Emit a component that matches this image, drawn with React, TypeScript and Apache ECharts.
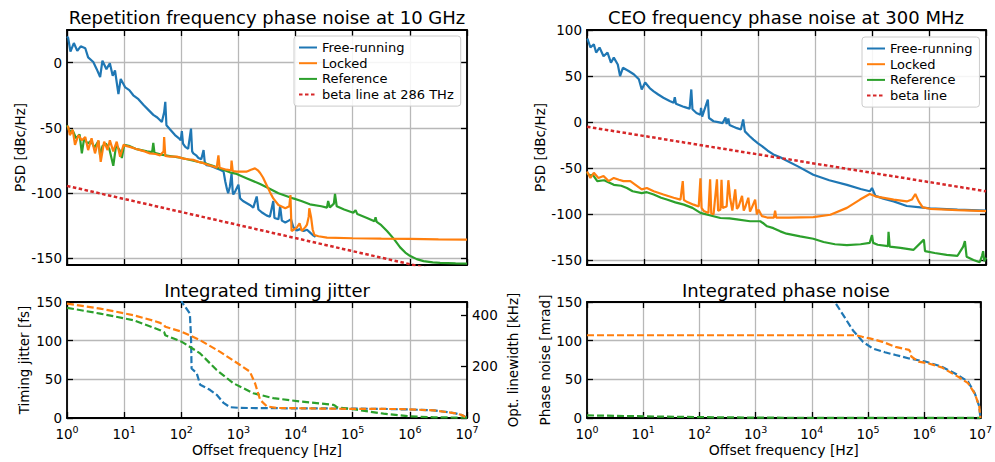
import React, { useEffect, useRef } from 'react';
import * as echarts from 'echarts';

const FONT = '"DejaVu Sans", "Open Sans", sans-serif';
const C_BLUE = '#1f77b4';
const C_ORANGE = '#ff7f0e';
const C_GREEN = '#2ca02c';
const C_RED = '#d62728';

// [log10(offset frequency / Hz), value]
const repFree: [number, number][] = [[0.00,20],[0.02,19],[0.06,8.5],[0.12,15],[0.18,9],[0.24,12.5],[0.32,11],[0.37,4],[0.46,0.5],[0.52,-5],[0.58,-11],[0.62,1.5],[0.69,-5],[0.75,-0.5],[0.80,-10],[0.84,-6],[0.90,-24],[0.94,-12.5],[1.02,-19],[1.09,-21],[1.16,-25],[1.25,-28],[1.34,-32.5],[1.42,-36],[1.51,-40],[1.58,-42],[1.66,-45.5],[1.70,-38],[1.72,-30],[1.74,-48],[1.82,-52],[1.89,-55.5],[1.96,-58],[1.99,-59.5],[2.01,-52.5],[2.03,-62],[2.07,-64.5],[2.12,-66],[2.17,-50.5],[2.19,-68],[2.21,-69.5],[2.26,-71],[2.30,-73],[2.35,-74],[2.39,-67],[2.41,-76],[2.44,-78.5],[2.50,-79],[2.56,-80],[2.62,-81],[2.68,-82],[2.74,-83.5],[2.77,-91],[2.80,-97],[2.82,-100],[2.85,-95],[2.88,-85],[2.90,-99],[2.91,-101],[2.95,-98],[3.00,-93.5],[3.03,-104],[3.08,-106],[3.14,-107.5],[3.20,-109],[3.26,-111],[3.32,-102.5],[3.35,-112.5],[3.42,-115],[3.49,-117],[3.55,-118],[3.61,-106],[3.63,-119],[3.70,-120],[3.73,-110],[3.76,-121],[3.82,-122.5],[3.88,-121],[3.92,-120],[3.96,-126],[4.02,-128.5],[4.08,-127.5],[4.14,-129],[4.20,-128],[4.25,-130],[4.30,-132],[4.35,-133.5]];
const repLocked: [number, number][] = [[0.00,-49],[0.02,-49],[0.05,-55.5],[0.10,-51.5],[0.14,-63],[0.20,-55.5],[0.26,-59.5],[0.32,-57],[0.37,-67],[0.43,-58],[0.49,-69.5],[0.55,-59.5],[0.59,-76],[0.65,-60.5],[0.71,-67],[0.75,-59.5],[0.81,-68],[0.87,-60.5],[0.93,-72],[0.99,-63],[1.05,-64],[1.10,-64.5],[1.20,-66],[1.28,-67],[1.36,-68],[1.45,-69.5],[1.55,-70],[1.63,-71],[1.69,-68],[1.70,-57],[1.72,-71.5],[1.80,-72],[1.92,-72],[2.04,-73.5],[2.12,-74],[2.21,-74.5],[2.30,-76],[2.39,-77],[2.48,-78.5],[2.56,-79.5],[2.62,-80.5],[2.65,-71],[2.67,-80.5],[2.79,-82],[2.87,-82.5],[2.88,-75],[2.90,-83],[2.97,-83.5],[3.05,-83.5],[3.14,-83.5],[3.22,-82],[3.29,-81],[3.34,-82.5],[3.38,-84.5],[3.43,-88],[3.49,-93.5],[3.55,-99],[3.61,-104],[3.70,-109],[3.82,-111.5],[3.89,-110],[3.91,-101.5],[3.93,-129],[4.02,-126.5],[4.07,-123],[4.11,-129],[4.17,-126],[4.20,-124],[4.23,-118],[4.24,-111.5],[4.27,-118],[4.30,-128],[4.33,-132],[4.40,-133],[4.55,-134],[5.00,-134.5],[5.50,-134.8],[6.00,-135],[6.50,-135.3],[7.00,-135.5]];
const repRef: [number, number][] = [[0.00,-48],[0.05,-53],[0.10,-52],[0.16,-58],[0.22,-55],[0.26,-69.5],[0.30,-58],[0.36,-62],[0.42,-60],[0.48,-65],[0.55,-60],[0.58,-71.5],[0.62,-64],[0.68,-62],[0.74,-66],[0.81,-79],[0.86,-63],[0.92,-67],[0.96,-73],[1.00,-63],[1.10,-64],[1.20,-66],[1.30,-67],[1.40,-68],[1.49,-68.5],[1.51,-61.5],[1.53,-69],[1.65,-70.5],[1.80,-71.5],[1.95,-72.5],[2.10,-74],[2.25,-75.5],[2.40,-77],[2.55,-79],[2.70,-81.5],[2.85,-84],[2.95,-85],[3.14,-88.5],[3.38,-93],[3.52,-96],[3.70,-100],[3.96,-104],[4.10,-106],[4.25,-108.5],[4.45,-110],[4.55,-111],[4.57,-106],[4.60,-111],[4.67,-108],[4.69,-100.5],[4.72,-110],[4.85,-112.5],[5.01,-115],[5.05,-113],[5.08,-116],[5.25,-119],[5.38,-121.5],[5.40,-118.5],[5.42,-122],[5.50,-124.5],[5.60,-129],[5.72,-135],[5.83,-141.5],[5.92,-145.5],[6.00,-148],[6.12,-150.5],[6.24,-152],[6.40,-153],[6.53,-153.3],[6.80,-153.8],[7.00,-154]];
const repBeta: [number, number][] = [[0, -94.4], [7, -164.4]];

const ceoFree: [number, number][] = [[0.00,90.5],[0.01,90],[0.06,81],[0.12,84.5],[0.16,75.5],[0.22,81],[0.29,71.5],[0.36,75.5],[0.42,64.5],[0.47,70],[0.54,62.5],[0.58,50],[0.63,59],[0.73,55.5],[0.82,52],[0.91,46.5],[0.96,35.5],[1.02,43],[1.10,37],[1.17,33.5],[1.25,30],[1.34,26.5],[1.45,23],[1.52,21],[1.54,27],[1.56,20],[1.68,17],[1.73,16],[1.80,14.5],[1.83,35.5],[1.85,14],[1.92,10],[1.99,8],[2.00,15.5],[2.02,6],[2.12,24.5],[2.14,4.5],[2.22,1],[2.30,0],[2.38,-1],[2.43,5],[2.45,-2],[2.48,4],[2.50,-3],[2.57,-5],[2.63,-6.5],[2.70,-8],[2.74,3],[2.77,-10],[2.85,-15],[2.92,-19],[3.00,-23],[3.07,-26],[3.17,-31],[3.27,-35],[3.39,-38],[3.48,-41],[3.70,-48],[3.97,-57],[4.25,-63],[4.56,-68],[4.80,-72.5],[4.96,-75],[5.00,-71.5],[5.06,-80],[5.20,-83],[5.38,-86],[5.61,-91],[5.85,-92.5],[6.02,-93.5],[6.50,-95],[7.00,-96]];
const ceoLocked: [number, number][] = [[0.00,-53.5],[0.03,-57],[0.06,-60.5],[0.12,-55],[0.20,-60.5],[0.29,-58.5],[0.38,-64],[0.47,-60.5],[0.56,-62.5],[0.64,-64],[0.76,-64],[0.85,-68],[0.96,-73],[1.05,-71.5],[1.17,-75],[1.34,-78.5],[1.52,-82],[1.64,-84],[1.68,-64],[1.70,-84.5],[1.74,-86],[1.87,-89.5],[1.96,-91.5],[1.99,-61],[2.01,-93],[2.05,-96.5],[2.13,-98.5],[2.16,-62],[2.18,-99],[2.22,-100],[2.28,-62],[2.30,-96],[2.34,-95],[2.36,-62.5],[2.38,-93],[2.45,-91.5],[2.48,-63],[2.51,-82],[2.55,-96],[2.60,-73],[2.63,-94],[2.66,-91.5],[2.72,-80],[2.75,-96],[2.78,-91.5],[2.83,-82],[2.86,-97],[2.89,-93],[2.95,-84],[2.98,-100],[3.01,-95],[3.07,-102],[3.16,-103.5],[3.28,-103.5],[3.30,-96],[3.32,-103.5],[3.54,-103.5],[3.97,-103],[4.27,-100.5],[4.56,-93],[4.79,-84],[4.96,-78],[5.06,-80.5],[5.38,-84],[5.61,-86],[5.70,-84],[5.76,-78],[5.82,-86],[5.89,-92.5],[6.02,-94],[6.50,-95.5],[7.00,-96.5]];
const ceoRef: [number, number][] = [[0.00,-55],[0.05,-58],[0.10,-57],[0.18,-64],[0.30,-63],[0.47,-68],[0.60,-69],[0.70,-71.5],[0.80,-75],[0.96,-77],[1.05,-76],[1.17,-78.5],[1.30,-82],[1.40,-84],[1.55,-87],[1.70,-89.5],[1.85,-93],[1.99,-98.5],[2.15,-101],[2.34,-104],[2.50,-104.5],[2.63,-105.5],[2.86,-107.5],[3.04,-107.5],[3.10,-110],[3.16,-113],[3.27,-115],[3.39,-118.5],[3.50,-121],[3.74,-124],[3.97,-126.5],[4.15,-130],[4.35,-132.5],[4.56,-133.5],[4.80,-132.5],[4.96,-131],[5.00,-122.5],[5.02,-131],[5.10,-133],[5.28,-134.5],[5.29,-119],[5.31,-135],[5.50,-136.5],[5.73,-138.5],[5.91,-127.5],[5.93,-140],[6.10,-142],[6.31,-144],[6.50,-145],[6.60,-135],[6.63,-129],[6.66,-146],[6.78,-149.5],[6.89,-152],[6.93,-145],[6.95,-140],[6.97,-151],[7.00,-147]];
const ceoBeta: [number, number][] = [[0, -5], [7, -75]];

const jitFree: [number, number][] = [[1.97,400],[2.01,150],[2.07,143.5],[2.15,135],[2.17,105],[2.18,64],[2.27,58],[2.33,43],[2.50,36.5],[2.62,30],[2.74,19.5],[2.85,14],[3.03,13],[4.00,12.5],[4.66,12.3],[5.50,11.8],[6.00,11],[6.42,9.9],[6.77,6.4],[6.91,3.9],[7.00,0]];
const jitLocked: [number, number][] = [[0,148],[0.58,141.5],[1.16,133],[1.50,126],[1.63,123],[1.70,120],[1.72,118],[2.01,111.5],[2.33,100.5],[2.68,85.5],[3.03,68.5],[3.20,60],[3.29,45],[3.38,23.5],[3.50,15],[3.67,13],[4.66,12],[5.83,11.6],[6.42,9.9],[6.77,6.4],[6.91,3.9],[7.00,0]];
const jitRef: [number, number][] = [[0,142.5],[0.58,135],[1.16,126.5],[1.63,113.5],[1.70,111],[1.72,107],[2.01,98.5],[2.33,83.5],[2.62,62],[2.91,45],[3.26,32],[3.61,25.7],[4.08,21.4],[4.66,17],[4.70,15.5],[4.72,14],[5.07,10.7],[5.54,5.6],[6.00,2.1],[6.42,0.9],[7.00,0.4]];

const pnFree: [number, number][] = [[4.30,185],[4.41,150],[4.56,133],[4.73,113.5],[4.91,98.5],[5.08,90],[5.30,85],[5.49,81.5],[5.73,77],[6.02,73],[6.31,66.5],[6.60,55.5],[6.78,47],[6.90,32],[6.98,15],[7.00,0]];
const pnLocked: [number, number][] = [[0,107],[4.79,107],[4.90,105],[5.03,103],[5.26,98.5],[5.49,92],[5.73,88],[5.75,86],[5.77,79.5],[5.90,73],[6.08,70.5],[6.31,65.5],[6.60,53.5],[6.78,45],[6.90,31.5],[6.98,15],[7.00,0]];
const pnRef: [number, number][] = [[0,3.4],[0.5,2.8],[1.4,1.7],[2.3,0.9],[3.16,0.4],[5,0.15],[7,0.05]];

const psdTicksRep = [-150, -100, -50, 0];
const psdTicksCeo = [-150, -100, -50, 0, 50, 100];
const lowTicks = [0, 50, 100, 150];
const khzTicks = [0, 200, 400];

const titles = [
  { text: 'Repetition frequency phase noise at 10 GHz', x: 267, y: 17 },
  { text: 'CEO frequency phase noise at 300 MHz', x: 786, y: 17 },
  { text: 'Integrated timing jitter', x: 267, y: 290 },
  { text: 'Integrated phase noise', x: 786, y: 290 },
];

const toXY = (arr: [number, number][]) => arr.map(([lf, v]) => [Math.pow(10, lf), v]);

const axisLine = { show: true, onZero: false, lineStyle: { color: '#000', width: 1.8 } };
const tick = { show: true, inside: true, length: 6, lineStyle: { color: '#000', width: 1.3 } };
const split = { show: true, lineStyle: { color: '#b8b8b8', width: 1.3 } };

function xAx(gridIndex: number, position: 'top' | 'bottom', labels: boolean, withSplit: boolean) {
  return {
    type: 'log', logBase: 10, min: 1, max: 1e7, splitNumber: 7, gridIndex, position,
    axisLine, axisTick: tick, minorTick: { show: false },
    splitLine: withSplit ? split : { show: false },
    axisLabel: labels ? {
      show: true, margin: 6,
      formatter: (v: number) => `{b|10}{s|${Math.round(Math.log10(v))}}`,
      rich: {
        b: { fontSize: 13.5, fontFamily: FONT, color: '#000' },
        s: { fontSize: 9.5, fontFamily: FONT, color: '#000', padding: [0, 0, 9, 0] },
      },
    } : { show: false },
    name: labels ? 'Offset frequency [Hz]' : '',
    nameLocation: 'middle', nameGap: 25,
    nameTextStyle: { fontFamily: FONT, fontSize: 14, color: '#000' },
  };
}

function yAx(gridIndex: number, position: 'left' | 'right', min: number, max: number, ticks: number[],
  labels: boolean, withSplit: boolean, name = '', nameGap = 40) {
  return {
    type: 'value', gridIndex, position, min, max,
    axisLine, axisTick: { ...tick, customValues: ticks },
    splitLine: withSplit ? split : { show: false },
    axisLabel: labels ? { show: true, customValues: ticks, fontFamily: FONT, fontSize: 13.5, color: '#000', margin: 5 } : { show: false },
    name, nameLocation: 'middle', nameGap, nameRotate: 90,
    nameTextStyle: { fontFamily: FONT, fontSize: 13.5, color: '#000' },
  };
}

function line(name: string, data: [number, number][], color: string, g: number, dashed: false | number[] = false, width = 2.2, z = 2) {
  return {
    type: 'line', name, data: toXY(data), xAxisIndex: g * 2, yAxisIndex: g * 2,
    symbol: 'none', showSymbol: false, clip: true, z,
    lineStyle: { color, width, type: dashed ? dashed : 'solid' },
    itemStyle: { color },
    emphasis: { disabled: true },
  };
}

function legendCfg(data: string[], left: number, top: number) {
  return {
    data, left, top, orient: 'vertical', selectedMode: false,
    itemWidth: 18, itemHeight: 14, itemGap: 2.7,
    padding: [5, 7, 5, 4],
    itemStyle: { opacity: 0, borderWidth: 0 },
    backgroundColor: 'rgba(255,255,255,0.85)', borderColor: '#cccccc', borderWidth: 1, borderRadius: 3,
    textStyle: { fontFamily: FONT, fontSize: 13, color: '#000' },
  };
}

export default function App() {
  const ref = useRef<HTMLDivElement>(null);
  useEffect(() => {
    if (!ref.current) return;
    const chart = echarts.init(ref.current, undefined, { renderer: 'svg' });
    const dash = [7, 3];
    const dot = [3.5, 2.5];
    chart.setOption({
      animation: false,
      textStyle: { fontFamily: FONT },
      grid: [
        { left: 67, top: 30, width: 400, height: 235 },
        { left: 587, top: 30, width: 399, height: 235 },
        { left: 67, top: 302, width: 400, height: 116 },
        { left: 587, top: 302, width: 399, height: 116 },
      ],
      xAxis: [
        xAx(0, 'bottom', false, true), xAx(0, 'top', false, false),
        xAx(1, 'bottom', false, true), xAx(1, 'top', false, false),
        xAx(2, 'bottom', true, true), xAx(2, 'top', false, false),
        xAx(3, 'bottom', true, true), xAx(3, 'top', false, false),
      ],
      yAxis: [
        yAx(0, 'left', -155, 25, psdTicksRep, true, true, 'PSD [dBc/Hz]', 39),
        yAx(0, 'right', -155, 25, psdTicksRep, false, false),
        yAx(1, 'left', -155, 100, psdTicksCeo, true, true, 'PSD [dBc/Hz]', 40),
        yAx(1, 'right', -155, 100, psdTicksCeo, false, false),
        yAx(2, 'left', 0, 150, lowTicks, true, true, 'Timing jitter [fs]', 36),
        yAx(2, 'right', 0, 450, khzTicks, true, false, 'Opt. linewidth [kHz]', 39),
        yAx(3, 'left', 0, 150, lowTicks, true, true, 'Phase noise [mrad]', 35),
        yAx(3, 'right', 0, 150, lowTicks, false, false),
      ],
      legend: [
        legendCfg(['Free-running', 'Locked', 'Reference', 'beta line at 286 THz'], 294, 36),
        legendCfg(['Free-running', 'Locked', 'Reference', 'beta line'], 862, 37),
      ],
      graphic: titles.map((t) => ({
        type: 'text', x: t.x, y: t.y, silent: true,
        style: { text: t.text, font: `18px ${FONT}`, fill: '#000', align: 'center', verticalAlign: 'middle', textAlign: 'center', textVerticalAlign: 'middle' },
      })),
      series: [
        line('Free-running', repFree, C_BLUE, 0),
        line('Reference', repRef, C_GREEN, 0),
        line('Locked', repLocked, C_ORANGE, 0),
        line('beta line at 286 THz', repBeta, C_RED, 0, dot, 2.5),
        line('Free-running', ceoFree, C_BLUE, 1),
        line('Reference', ceoRef, C_GREEN, 1),
        line('Locked', ceoLocked, C_ORANGE, 1),
        line('beta line', ceoBeta, C_RED, 1, dot, 2.5),
        line('jitter free', jitFree, C_BLUE, 2, dash),
        line('jitter ref', jitRef, C_GREEN, 2, dash),
        line('jitter locked', jitLocked, C_ORANGE, 2, dash),
        line('pn free', pnFree, C_BLUE, 3, dash),
        line('pn ref', pnRef, C_GREEN, 3, dash),
        line('pn locked', pnLocked, C_ORANGE, 3, dash),
      ],
    });
    return () => chart.dispose();
  }, []);
  return <div ref={ref} style={{ position: 'fixed', left: 0, top: 0, width: 995, height: 462, background: '#fff' }} />;
}
